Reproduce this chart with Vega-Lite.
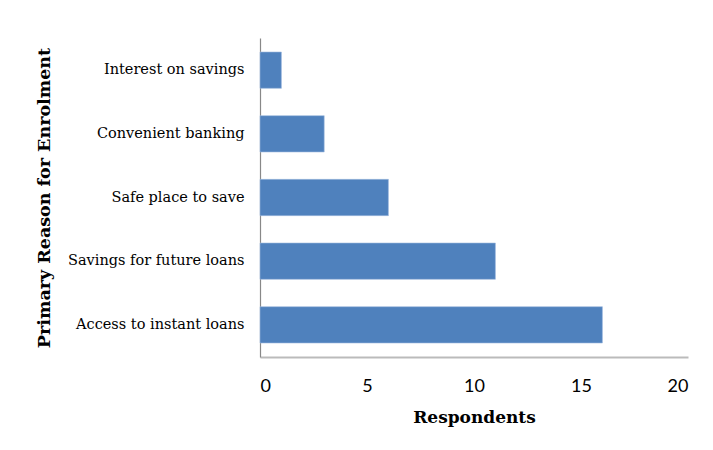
{
  "$schema": "https://vega.github.io/schema/vega-lite/v6.json",
  "width": 428,
  "height": 319,
  "autosize": "none",
  "padding": {"left": 260, "top": 38, "right": 25, "bottom": 93},
  "background": "white",
  "config": {"view": {"stroke": null}},
  "data": {
    "values": [
      {"reason": "Interest on savings", "respondents": 1},
      {"reason": "Convenient banking", "respondents": 3},
      {"reason": "Safe place to save", "respondents": 6},
      {"reason": "Savings for future loans", "respondents": 11},
      {"reason": "Access to instant loans", "respondents": 16}
    ]
  },
  "mark": {"type": "bar", "color": "#4F81BD", "stroke": "#9DB9DE", "strokeWidth": 0.6},
  "encoding": {
    "y": {
      "field": "reason",
      "type": "nominal",
      "sort": null,
      "scale": {"paddingInner": 0.43, "paddingOuter": 0.22},
      "axis": {
        "title": "Primary Reason for Enrolment",
        "titleFont": "DejaVu Serif",
        "titleFontSize": 17.5,
        "titleFontWeight": "bold",
        "titleColor": "#000",
        "titlePadding": 14,
        "labelFont": "DejaVu Serif",
        "labelFontSize": 14.5,
        "labelColor": "#000",
        "labelPadding": 16,
        "labelLimit": 300,
        "ticks": false,
        "domainColor": "#888",
        "domainWidth": 1.2,
        "grid": false
      }
    },
    "x": {
      "field": "respondents",
      "type": "quantitative",
      "scale": {"domain": [0, 20]},
      "axis": {
        "values": [0, 5, 10, 15, 20],
        "title": "Respondents",
        "titleFont": "DejaVu Serif",
        "titleFontSize": 17,
        "titleFontWeight": "bold",
        "titleColor": "#000",
        "titlePadding": 14,
        "labelFont": "Liberation Sans Narrow, Lato",
        "labelFontSize": 18,
        "labelColor": "#000",
        "labelPadding": 20,
        "ticks": false,
        "domainColor": "#bbb",
        "domainWidth": 2,
        "grid": false
      }
    }
  }
}
